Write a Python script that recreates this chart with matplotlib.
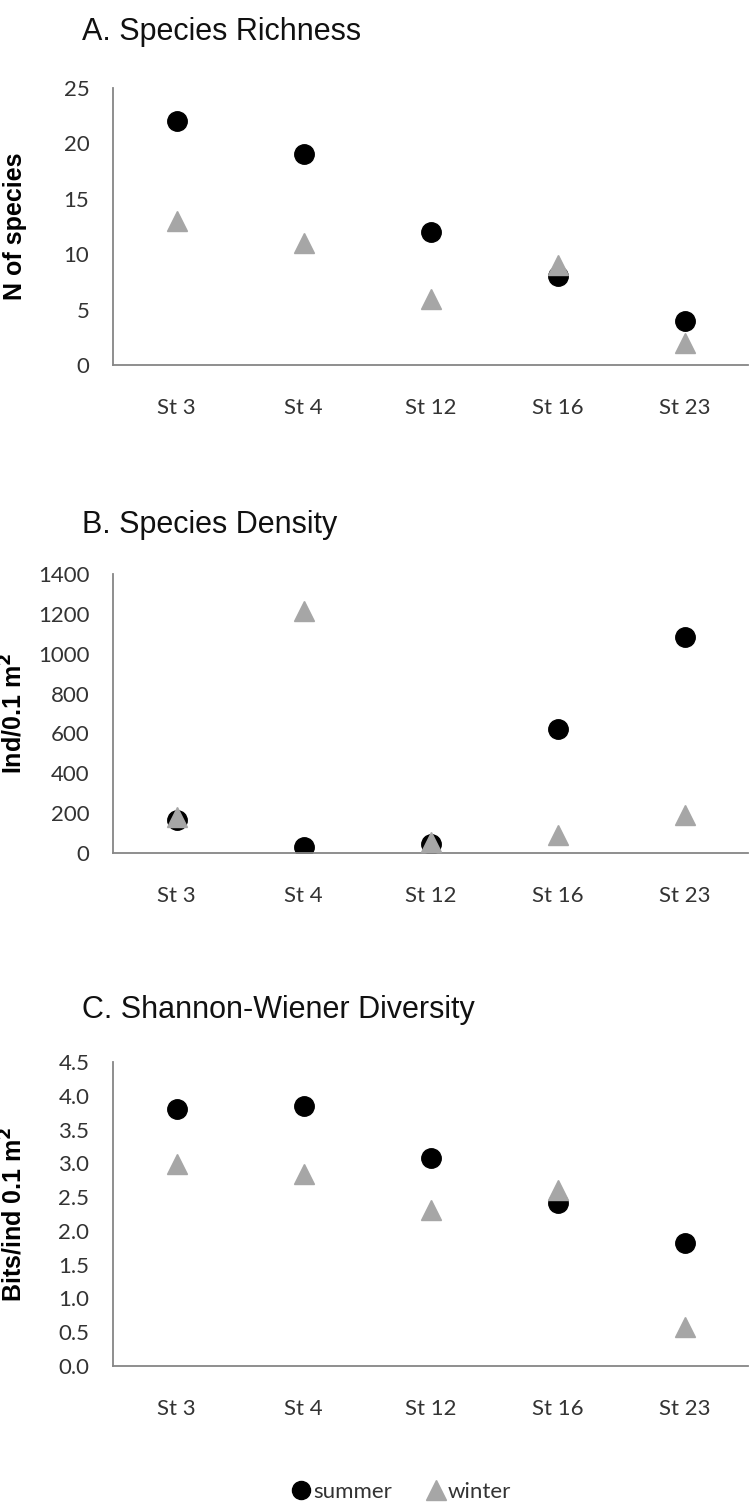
import matplotlib
matplotlib.use("Agg")
import matplotlib.pyplot as plt
from matplotlib.lines import Line2D
from matplotlib.ticker import FormatStrFormatter

stations = ["St 3", "St 4", "St 12", "St 16", "St 23"]

richness_summer = [22, 19, 12, 8, 4]
richness_winter = [13, 11, 6, 9, 2]

density_summer = [165, 30, 45, 620, 1085]
density_winter = [180, 1215, 55, 90, 190]

diversity_summer = [3.81, 3.85, 3.08, 2.42, 1.82]
diversity_winter = [2.99, 2.84, 2.31, 2.60, 0.58]

SUMMER_COLOR = "black"
WINTER_COLOR = "#a6a6a6"
AXIS_COLOR = "#868686"
TICK_FONT = ["Lato", "DejaVu Sans"]
TITLE_FONT = ["Liberation Sans", "DejaVu Sans"]

W, H = 756, 1505
fig = plt.figure(figsize=(W / 100, H / 100), dpi=100)


def px_axes(left, right, top, bottom):
    return fig.add_axes([left / W, 1 - bottom / H, (right - left) / W, (bottom - top) / H])


def panel(ax, summer, winter, ymax, step, ylabel, title, title_base, fmt=None):
    x = list(range(len(stations)))
    ax.plot(x, winter, linestyle="none", marker="^", markersize=15,
            color=WINTER_COLOR, zorder=3)
    ax.plot(x, summer, linestyle="none", marker="o", markersize=14,
            color=SUMMER_COLOR, zorder=2)
    ax.set_xlim(-0.5, len(stations) - 0.5)
    ax.set_ylim(0, ymax)
    n = int(round(ymax / step))
    ax.set_yticks([i * step for i in range(n + 1)])
    if fmt:
        ax.yaxis.set_major_formatter(FormatStrFormatter(fmt))
    ax.set_xticks(x)
    ax.set_xticklabels(stations)
    for side in ["top", "right"]:
        ax.spines[side].set_visible(False)
    for side in ["left", "bottom"]:
        ax.spines[side].set_color(AXIS_COLOR)
        ax.spines[side].set_linewidth(1.3)
    ax.tick_params(axis="y", length=0, pad=17, labelsize=16, labelcolor="#333333")
    ax.tick_params(axis="x", length=0, pad=24, labelsize=16, labelcolor="#333333")
    for lab in ax.get_xticklabels() + ax.get_yticklabels():
        lab.set_family(TICK_FONT)
    ax.set_ylabel(ylabel, fontsize=18, fontweight="bold", family=TITLE_FONT)
    ax.yaxis.set_label_coords(-0.135, 0.5)
    fig.text(82 / W, 1 - title_base / H, title, fontsize=22, family=TITLE_FONT,
             ha="left", va="baseline", color="#111111")


ax_a = px_axes(113, 748, 88, 365)
panel(ax_a, richness_summer, richness_winter, 25, 5, "N of species",
      "A. Species Richness", 40)

ax_b = px_axes(113, 748, 574, 853)
panel(ax_b, density_summer, density_winter, 1400, 200, "Ind/0.1 m$^{\\mathbf{2}}$",
      "B. Species Density", 533)

ax_c = px_axes(113, 748, 1062, 1366)
panel(ax_c, diversity_summer, diversity_winter, 4.5, 0.5, "Bits/ind 0.1 m$^{\\mathbf{2}}$",
      "C. Shannon-Wiener Diversity", 1018, fmt="%.1f")

handles = [
    Line2D([], [], linestyle="none", marker="o", markersize=13, color=SUMMER_COLOR, label="summer"),
    Line2D([], [], linestyle="none", marker="^", markersize=14, color=WINTER_COLOR, label="winter"),
]
fig.legend(handles=handles, loc="center", bbox_to_anchor=(400 / W, 1 - 1492 / H),
           ncol=2, frameon=False, handletextpad=0.0, columnspacing=1.4,
           handlelength=1.1, prop={"family": TICK_FONT, "size": 16},
           labelcolor="#333333")

fig.savefig("out.png", dpi=100)
